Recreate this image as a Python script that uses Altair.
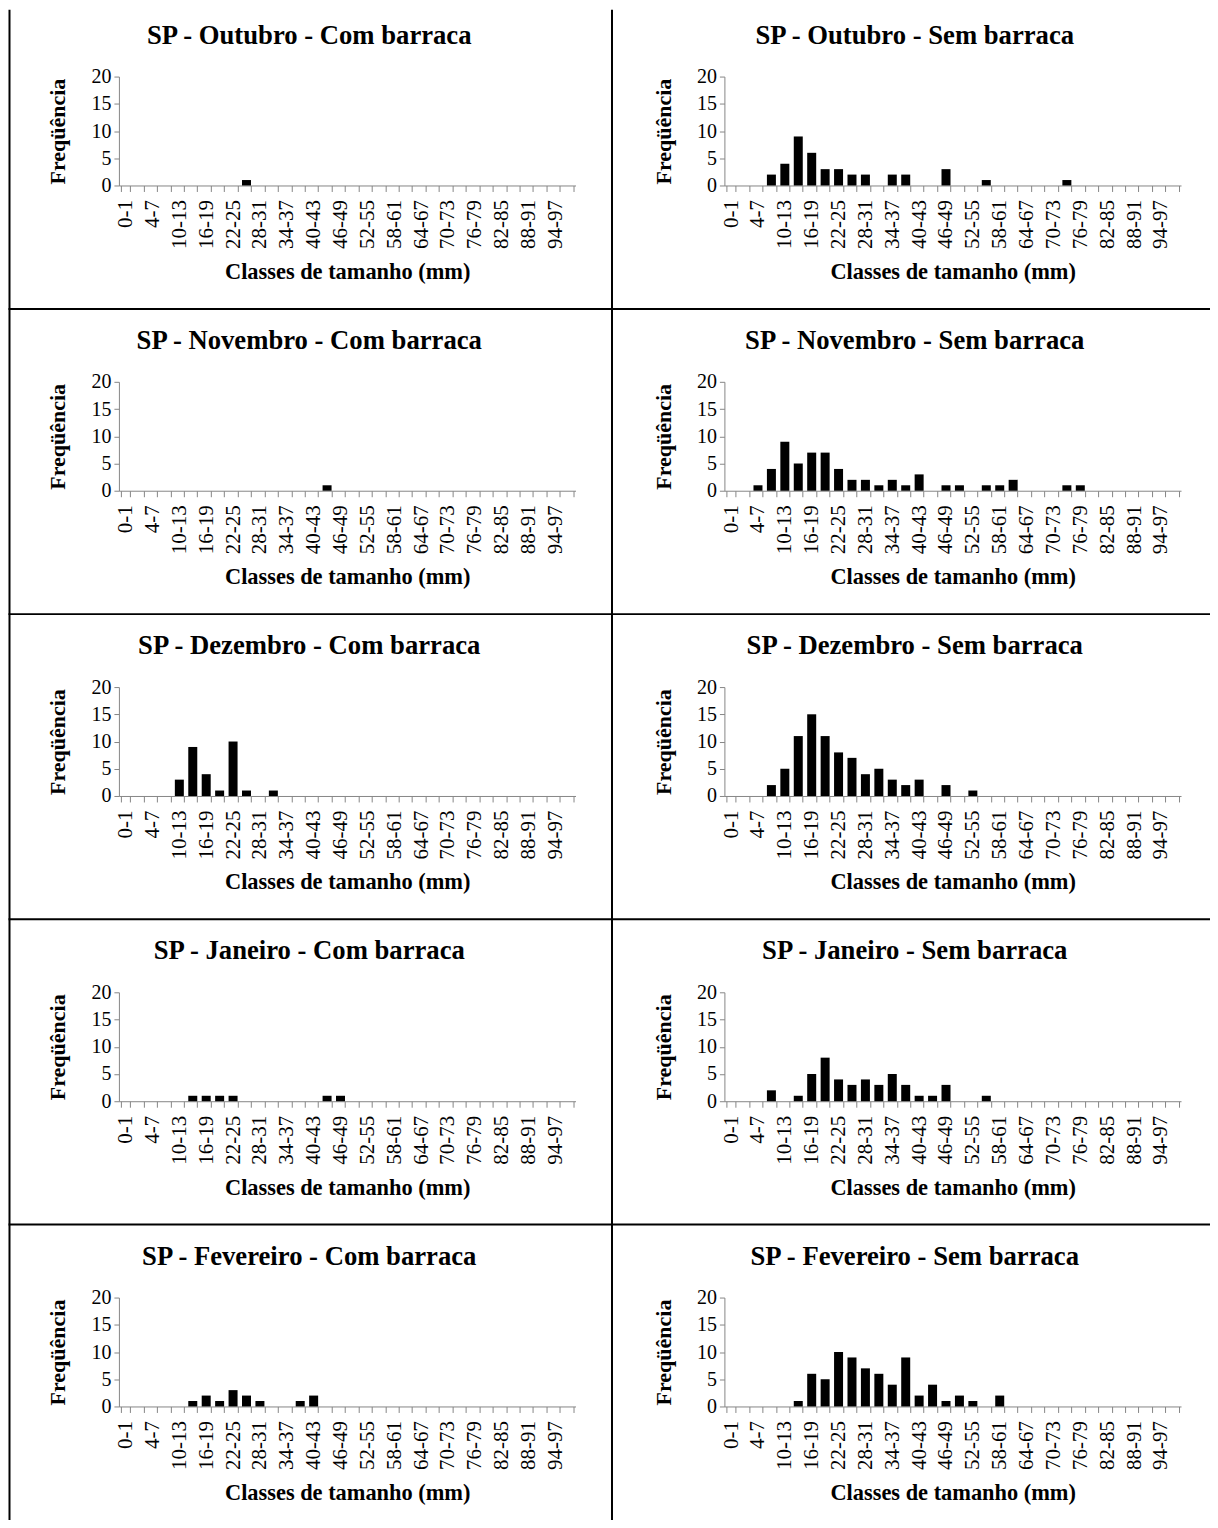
import altair as alt
import pandas as pd

# Size classes (mm) on the x axis
classes = ["0-1", "1-4", "4-7", "7-10", "10-13", "13-16", "16-19", "19-22",
           "22-25", "25-28", "28-31", "31-34", "34-37", "37-40", "40-43",
           "43-46", "46-49", "49-52", "52-55", "55-58", "58-61", "61-64",
           "64-67", "67-70", "70-73", "73-76", "76-79", "79-82", "82-85",
           "85-88", "88-91", "91-94", "94-97", "97-100"]
shown_labels = ["0-1", "4-7", "10-13", "16-19", "22-25", "28-31", "34-37",
                "40-43", "46-49", "52-55", "58-61", "64-67", "70-73", "76-79",
                "82-85", "88-91", "94-97"]
y_ticks = [0, 5, 10, 15, 20]

titles = ["SP - Outubro - Com barraca", "SP - Outubro - Sem barraca",
          "SP - Novembro - Com barraca", "SP - Novembro - Sem barraca",
          "SP - Dezembro - Com barraca", "SP - Dezembro - Sem barraca",
          "SP - Janeiro - Com barraca", "SP - Janeiro - Sem barraca",
          "SP - Fevereiro - Com barraca", "SP - Fevereiro - Sem barraca"]

out_com = [0, 0, 0, 0, 0, 0, 0, 0, 0, 1, 0, 0, 0, 0, 0, 0, 0, 0, 0, 0, 0, 0, 0, 0, 0, 0, 0, 0, 0, 0, 0, 0, 0, 0]
out_sem = [0, 0, 0, 2, 4, 9, 6, 3, 3, 2, 2, 0, 2, 2, 0, 0, 3, 0, 0, 1, 0, 0, 0, 0, 0, 1, 0, 0, 0, 0, 0, 0, 0, 0]
nov_com = [0, 0, 0, 0, 0, 0, 0, 0, 0, 0, 0, 0, 0, 0, 0, 1, 0, 0, 0, 0, 0, 0, 0, 0, 0, 0, 0, 0, 0, 0, 0, 0, 0, 0]
nov_sem = [0, 0, 1, 4, 9, 5, 7, 7, 4, 2, 2, 1, 2, 1, 3, 0, 1, 1, 0, 1, 1, 2, 0, 0, 0, 1, 1, 0, 0, 0, 0, 0, 0, 0]
dez_com = [0, 0, 0, 0, 3, 9, 4, 1, 10, 1, 0, 1, 0, 0, 0, 0, 0, 0, 0, 0, 0, 0, 0, 0, 0, 0, 0, 0, 0, 0, 0, 0, 0, 0]
dez_sem = [0, 0, 0, 2, 5, 11, 15, 11, 8, 7, 4, 5, 3, 2, 3, 0, 2, 0, 1, 0, 0, 0, 0, 0, 0, 0, 0, 0, 0, 0, 0, 0, 0, 0]
jan_com = [0, 0, 0, 0, 0, 1, 1, 1, 1, 0, 0, 0, 0, 0, 0, 1, 1, 0, 0, 0, 0, 0, 0, 0, 0, 0, 0, 0, 0, 0, 0, 0, 0, 0]
jan_sem = [0, 0, 0, 2, 0, 1, 5, 8, 4, 3, 4, 3, 5, 3, 1, 1, 3, 0, 0, 1, 0, 0, 0, 0, 0, 0, 0, 0, 0, 0, 0, 0, 0, 0]
fev_com = [0, 0, 0, 0, 0, 1, 2, 1, 3, 2, 1, 0, 0, 1, 2, 0, 0, 0, 0, 0, 0, 0, 0, 0, 0, 0, 0, 0, 0, 0, 0, 0, 0, 0]
fev_sem = [0, 0, 0, 0, 0, 1, 6, 5, 10, 9, 7, 6, 4, 9, 2, 4, 1, 2, 1, 0, 2, 0, 0, 0, 0, 0, 0, 0, 0, 0, 0, 0, 0, 0]

series = [out_com, out_sem, nov_com, nov_sem, dez_com, dez_sem,
          jan_com, jan_sem, fev_com, fev_sem]

FONT = "Liberation Serif"
GRAY = "#868686"
W, H = 457, 109
COL_STEP, CELL_H = 606, 305.5
LEFT_OFFS = [109.5, 112.5]   # plot-left minus cell-left line, per column
RIGHT_END = 493.5            # cell right edge relative to plot-left
TOP_OFF = 73                 # plot-top minus row separator
TITLE_X = 190.5              # title centre relative to plot-left

label_list = "[" + ",".join("'" + s + "'" for s in shown_labels) + "]"
label_expr = "indexof(" + label_list + ", datum.value) >= 0 ? datum.value : ''"


def panel(title, values, row, col):
    df = pd.DataFrame({"classe": classes, "freq": values})
    bars = alt.Chart(df).mark_bar(color="black").encode(
        x=alt.X("classe:N", sort=classes,
                scale=alt.Scale(paddingInner=0.33, paddingOuter=0.165),
                axis=alt.Axis(title="Classes de tamanho (mm)", labelAngle=-90,
                              labelExpr=label_expr, labelOverlap=False,
                              tickBand="extent", tickSize=6, labelPadding=8,
                              domainColor=GRAY, tickColor=GRAY, domainWidth=1,
                              labelFont=FONT, labelFontSize=21, labelColor="black",
                              titleFont=FONT, titleFontSize=22.4, titleFontWeight="bold",
                              titleColor="black", titlePadding=12)),
        y=alt.Y("freq:Q", scale=alt.Scale(domain=[0, 20], nice=False),
                axis=alt.Axis(values=y_ticks, title="Freqüência", grid=False,
                              tickSize=5, labelPadding=3,
                              domainColor=GRAY, tickColor=GRAY,
                              labelFont=FONT, labelFontSize=20, labelColor="black",
                              titleFont=FONT, titleFontSize=22, titleFontWeight="bold",
                              titleColor="black", titlePadding=21)),
    )
    one = pd.DataFrame({"k": [0]})
    ttl = alt.Chart(one).mark_text(text=title, font=FONT, fontSize=26.7,
                                   fontWeight="bold", color="black",
                                   align="center", baseline="middle").encode(
        x=alt.value(TITLE_X), y=alt.value(-41))
    loff = LEFT_OFFS[col]
    left = alt.Chart(one).mark_rule(color="black", strokeWidth=2).encode(
        x=alt.value(-loff),
        y=alt.value(-67 if row == 0 else -TOP_OFF),
        y2=alt.value(CELL_H - TOP_OFF))
    layers = [bars, ttl, left]
    if row > 0:
        top = alt.Chart(one).mark_rule(color="black", strokeWidth=2).encode(
            x=alt.value(-loff - 1), x2=alt.value(RIGHT_END),
            y=alt.value(-TOP_OFF))
        layers.append(top)
    return alt.layer(*layers).properties(width=W, height=H)


panels = [panel(t, s, i // 2, i % 2) for i, (t, s) in enumerate(zip(titles, series))]

chart = alt.concat(
    *panels, columns=2,
    spacing={"row": CELL_H - H, "column": COL_STEP - W},
    bounds="flush",
).properties(
    padding={"left": -1, "top": -1, "right": -9, "bottom": -12},
    background="white",
).configure_view(stroke="transparent")

chart.save("out.html", embed_options={"renderer": "svg", "actions": False})
